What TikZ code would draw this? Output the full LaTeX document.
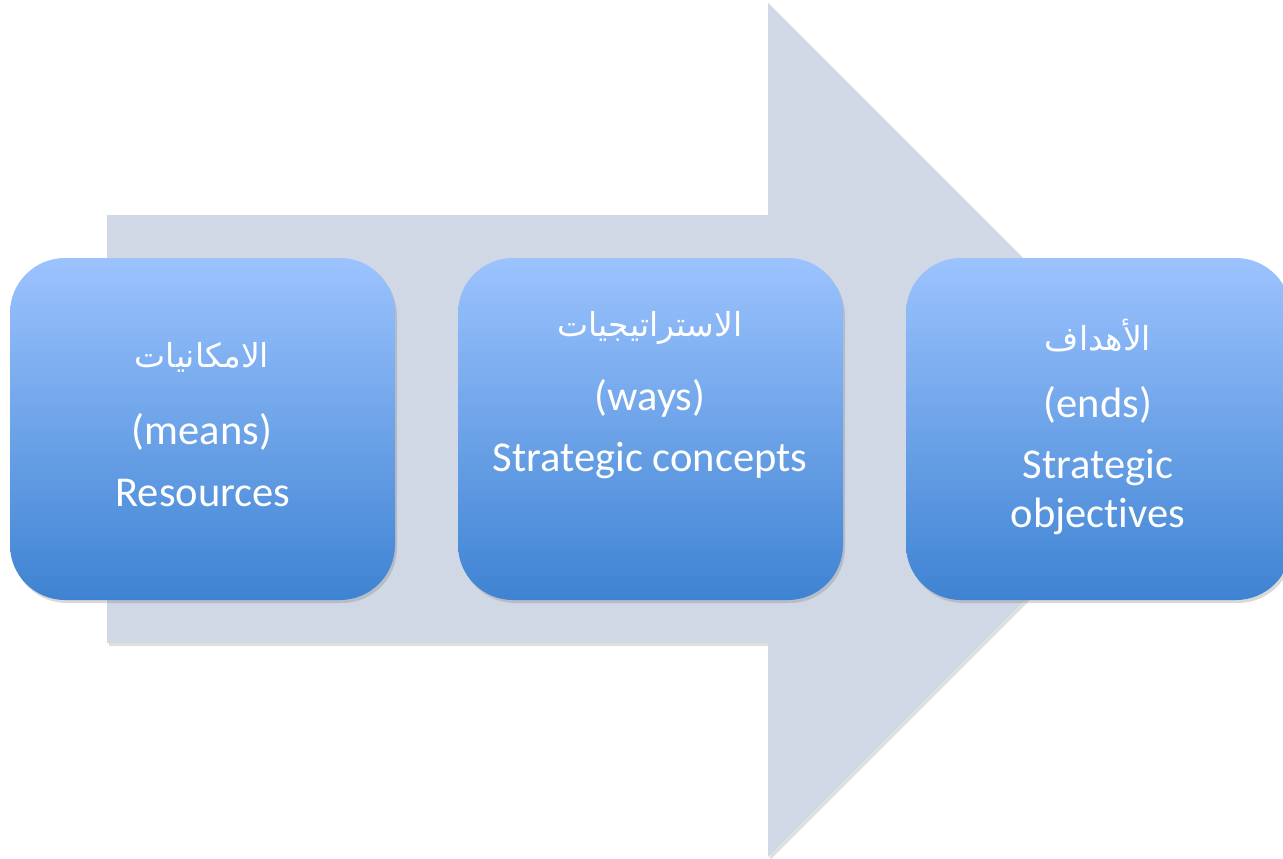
\documentclass[tikz,border=0pt]{standalone}
\usepackage{fontspec}
\setmainfont{Carlito}[Ligatures={NoCommon}]
\newfontfamily\arabicfont[Script=Arabic]{DejaVu Sans}
\TeXXeTstate=1
\usetikzlibrary{shadows}
\definecolor{arrowfill}{HTML}{D0D8E6}
\definecolor{boxtop}{HTML}{9CC3FE}
\definecolor{boxmid}{HTML}{89B5F4}
\definecolor{boxbot}{HTML}{3E83D2}
\tikzset{
  bigarrow/.style={fill=arrowfill, draw=none, drop shadow={opacity=0.25, shadow xshift=2pt, shadow yshift=-3pt}},
  stagebox/.style={rectangle, rounded corners=55pt, minimum width=385pt, minimum height=342pt, inner sep=0pt, draw=none,
    top color=boxtop, middle color=boxmid, bottom color=boxbot,
    drop shadow={opacity=0.3, shadow xshift=2pt, shadow yshift=-3pt}},
  lbl/.style={text=white, font=\fontsize{42.5}{46}\selectfont, inner sep=0pt, anchor=center},
  arlbl/.style={text=white, font=\arabicfont\fontsize{33}{36}\selectfont, inner sep=0pt, anchor=center}
}
\begin{document}
\begin{tikzpicture}[x=1pt,y=-1pt]
\useasboundingbox (0,0) rectangle (1283,859);
\begin{scope}
\clip (0,0) rectangle (1283,859);
\coordinate (tip) at (1195,430);
\fill[bigarrow] (107,215) -- (768,215) -- (768,3) -- (tip) -- (768,857) -- (768,643) -- (107,643) -- cycle;
\node[stagebox] (b1) at (202.5,429) {};
\node[stagebox] (b2) at (650.5,429) {};
\node[stagebox] (b3) at (1098.5,429) {};
\node[arlbl] (b1a) at (202,357) {\beginR الامكانيات\endR};
\node[lbl] (b1b) at (202,432) {(means)};
\node[lbl] (b1c) at (203,493) {Resources};
\node[arlbl] (b2a) at (650,328) {\beginR الاستراتيجيات\endR};
\node[lbl] (b2b) at (650,398) {(ways)};
\node[lbl] (b2c) at (650,461) {Strategic concepts};
\node[arlbl] (b3a) at (1098,335) {\beginR الأهداف\endR};
\node[lbl] (b3b) at (1098,405) {(ends)};
\node[lbl] (b3c) at (1098,468) {Strategic};
\node[lbl] (b3d) at (1098,516) {objectives};
\end{scope}
\end{tikzpicture}
\end{document}
